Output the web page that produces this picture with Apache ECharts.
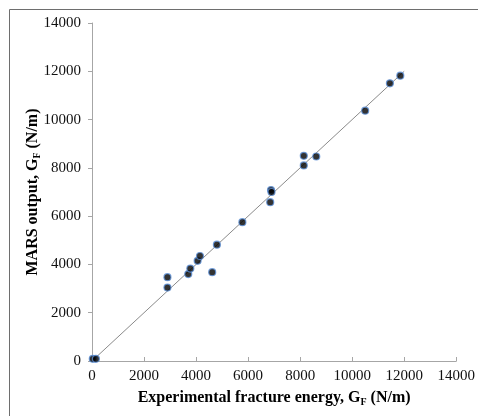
<!DOCTYPE html>
<html><head><meta charset="utf-8">
<script src="https://cdn.jsdelivr.net/npm/echarts@6/dist/echarts.min.js"></script>
<style>html,body{margin:0;padding:0;background:#fff}#c{width:478px;height:416px}</style>
</head><body><div id="c"></div>
<script>
const expX = [30, 150, 2900, 2900, 3700, 3780, 4060, 4150, 4620, 4800, 5780, 6850, 6880, 6900, 8140, 8140, 8620, 10500, 11450, 11850];
const marsY = [90, 90, 3470, 3040, 3600, 3830, 4150, 4350, 3680, 4820, 5750, 6580, 7080, 7000, 8500, 8100, 8470, 10370, 11500, 11820];
const fitX = [0, 12000];
const fitY = [0, 12000];
const axisTicks = [0, 2000, 4000, 6000, 8000, 10000, 12000, 14000];

const chart = echarts.init(document.getElementById('c'), null, {renderer: 'canvas'});
const font = '"Liberation Serif", "Times New Roman", serif';
const subRich = {
  b: {fontFamily: font, fontSize: 16, fontWeight: 'bold', color: '#000'},
  s: {fontFamily: font, fontSize: 10, fontWeight: 'bold', color: '#000', padding: [8, 0, 0, 0]}
};
const fmt = v => String(v);
chart.setOption({
  animation: false,
  backgroundColor: '#fff',
  graphic: [{type: 'rect', shape: {x: 9.5, y: 9.5, width: 500, height: 450}, style: {fill: 'none', stroke: '#6e6e6e', lineWidth: 1}}],
  grid: {left: 92, right: 20, top: 23, bottom: 55},
  xAxis: {
    type: 'value', min: axisTicks[0], max: axisTicks[axisTicks.length - 1], interval: 2000,
    splitLine: {show: false},
    axisLine: {lineStyle: {color: '#a6a6a6'}},
    axisTick: {inside: true, length: 4, lineStyle: {color: '#a6a6a6'}},
    axisLabel: {fontFamily: font, fontSize: 15, color: '#111', margin: 8, formatter: fmt},
    name: '{b|Experimental fracture energy, G}{s|F}{b| (N/m)}',
    nameLocation: 'middle', nameGap: 28, nameMoveOverlap: false,
    nameTextStyle: {rich: subRich}
  },
  yAxis: {
    type: 'value', min: axisTicks[0], max: axisTicks[axisTicks.length - 1], interval: 2000,
    splitLine: {show: false},
    axisLine: {show: true, lineStyle: {color: '#a6a6a6'}},
    axisTick: {show: true, length: 4, lineStyle: {color: '#a6a6a6'}},
    axisLabel: {fontFamily: font, fontSize: 15, color: '#111', margin: 11, formatter: fmt},
    name: '{b|MARS output, G}{s|F}{b| (N/m)}',
    nameLocation: 'middle', nameGap: 50, nameMoveOverlap: false,
    nameTextStyle: {rich: subRich}
  },
  series: [
    {type: 'line', data: fitX.map((v, i) => [v, fitY[i]]), showSymbol: false, lineStyle: {color: '#8a8a8a', width: 1}, z: 1},
    {type: 'scatter', data: expX.map((v, i) => [v, marsY[i]]), symbolSize: 7,
     itemStyle: {color: '#000', borderColor: '#5b8ed6', borderWidth: 1.2}, z: 2}
  ]
});
</script></body></html>
